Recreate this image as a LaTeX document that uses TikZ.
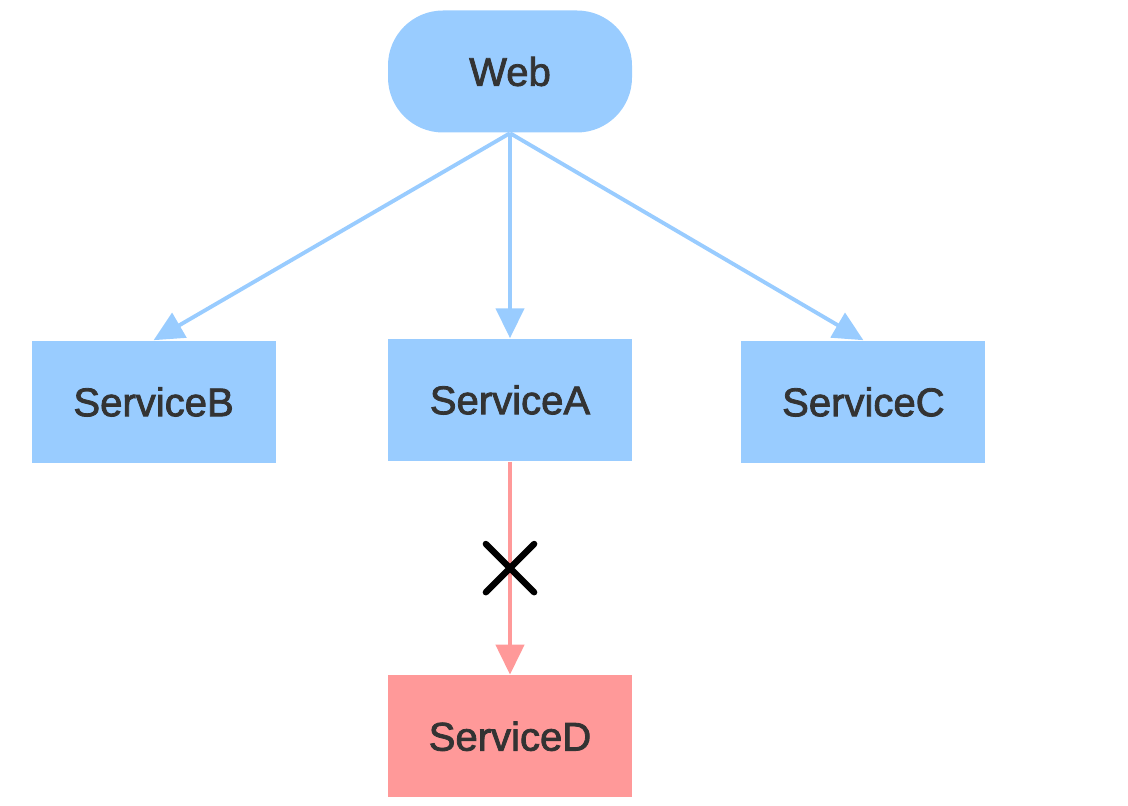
\documentclass[tikz,border=0pt]{standalone}
\usepackage{fontspec}
\setmainfont{Liberation Sans}
\newfontfamily\labelfont{Liberation Sans}[FakeBold=2]
\usepackage{xcolor}
\usetikzlibrary{shapes.misc, arrows.meta, positioning}

\definecolor{svcblue}{HTML}{99CCFF}
\definecolor{svcred}{HTML}{FF9999}
\definecolor{svctext}{HTML}{333333}

\begin{document}
\begin{tikzpicture}[
    node distance=2cm,
    service/.style={rectangle, fill=svcblue, minimum width=2.44cm, minimum height=1.22cm, inner sep=0pt, text=svctext, font=\labelfont\fontsize{11.4}{13}\selectfont},
    gateway/.style={service, rounded corners=0.55cm},
    broken/.style={service, fill=svcred},
    arrow/.style={svcblue, line width=1.1pt, -{Triangle[width=8pt, length=8.5pt]}},
    failarrow/.style={arrow, svcred},
    cut/.style={cross out, draw=black, line width=1.8pt, line cap=round, minimum size=0.42cm, inner sep=0pt}
]
\useasboundingbox (0,0) rectangle (11.28,-8.06);

% Entry point
\node[gateway] (web) at (5.10,-0.715) {Web};

% Services called by the web node
\node[service, below=2.05cm of web] (serviceA) {ServiceA};
\node[service, left=1.11cm of serviceA, yshift=-0.02cm] (serviceB) {ServiceB};
\node[service, right=1.08cm of serviceA, yshift=-0.02cm] (serviceC) {ServiceC};

% Downstream service that fails
\node[broken, below=2.13cm of serviceA] (serviceD) {ServiceD};

% Arrows
\draw[arrow] (web.south) -- (serviceB.north);
\draw[arrow] (web.south) -- (serviceA.north);
\draw[arrow] (web.south) -- (serviceC.north);
\draw[failarrow] (serviceA.south) -- (serviceD.north) node[cut, midway] (cutmark) {};

\end{tikzpicture}
\end{document}
